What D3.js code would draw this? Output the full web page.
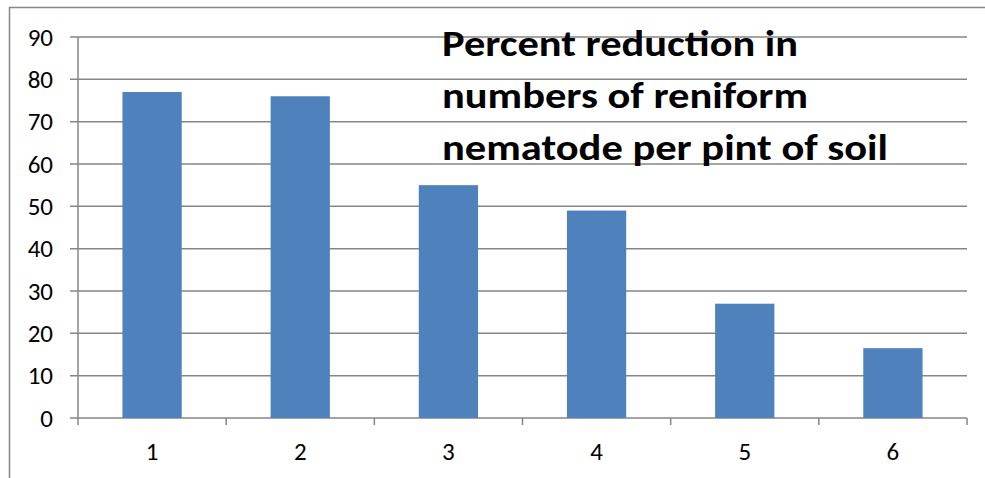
<!DOCTYPE html>
<html><head><meta charset="utf-8">
<script src="https://cdn.jsdelivr.net/npm/d3@7"></script>
<style>body{margin:0;background:#fff;}svg{display:block;}</style>
</head><body>
<script>
const categories = ["1","2","3","4","5","6"];
const values = [77, 76, 55, 49, 27, 16.5];
const yTicks = [0,10,20,30,40,50,60,70,80,90];
const titleLines = ["Percent reduction in","numbers of reniform","nematode per pint of soil"];

(function(){
const W = 985, H = 478;
const svg = d3.select("body").append("svg").attr("width", W).attr("height", H);
svg.append("rect").attr("x",9.5).attr("y",7.5).attr("width",1000).attr("height",500)
  .attr("fill","none").attr("stroke","#868686").attr("stroke-width",1.5);

const pL = 78, pR = 967, pT = 37, pB = 418;
const x = d3.scaleBand().domain(categories).range([pL, pR]).paddingInner(0.6).paddingOuter(0.3);
const y = d3.scaleLinear().domain([0,90]).range([pB, pT]);

const font = "Carlito, Lato, 'Liberation Sans', sans-serif";
svg.append("g").selectAll("line").data(yTicks).join("line")
  .attr("x1", pL-8).attr("x2", pR).attr("y1", d=>y(d)).attr("y2", d=>y(d))
  .attr("stroke","#868686").attr("stroke-width",1.5);
svg.append("line").attr("x1",pL).attr("x2",pL).attr("y1",pT).attr("y2",pB)
  .attr("stroke","#868686").attr("stroke-width",1.5);
svg.append("g").selectAll("text").data(yTicks).join("text")
  .attr("x", 53).attr("y", d=>y(d)).attr("dy","0.35em").attr("text-anchor","end")
  .attr("font-family",font).attr("font-size",25).attr("fill","#000").text(d=>d);
svg.append("g").selectAll("rect").data(values).join("rect")
  .attr("x",(d,i)=>x(categories[i])).attr("width",x.bandwidth())
  .attr("y",d=>y(d)).attr("height",d=>y(0)-y(d)).attr("fill","#4F81BD");
const step = (pR-pL)/categories.length;
const xt = d3.range(categories.length+1).map(i=>pL+i*step);
svg.append("g").selectAll("line").data(xt).join("line")
  .attr("x1",d=>d).attr("x2",d=>d).attr("y1",pB).attr("y2",pB+7)
  .attr("stroke","#868686").attr("stroke-width",1.5);
svg.append("g").selectAll("text").data(categories).join("text")
  .attr("x", d=>x(d)+x.bandwidth()/2).attr("y", 460).attr("text-anchor","middle")
  .attr("font-family",font).attr("font-size",25).attr("fill","#000").text(d=>d);
const tW = [356, 366, 446];
svg.append("g").selectAll("text").data(titleLines).join("text")
  .attr("x",442).attr("y",(d,i)=>56+i*52)
  .attr("font-family",font).attr("font-weight","bold").attr("font-size",37)
  .attr("textLength",(d,i)=>tW[i]).attr("lengthAdjust","spacingAndGlyphs")
  .attr("fill","#000").text(d=>d);
})();
</script>
</body></html>
